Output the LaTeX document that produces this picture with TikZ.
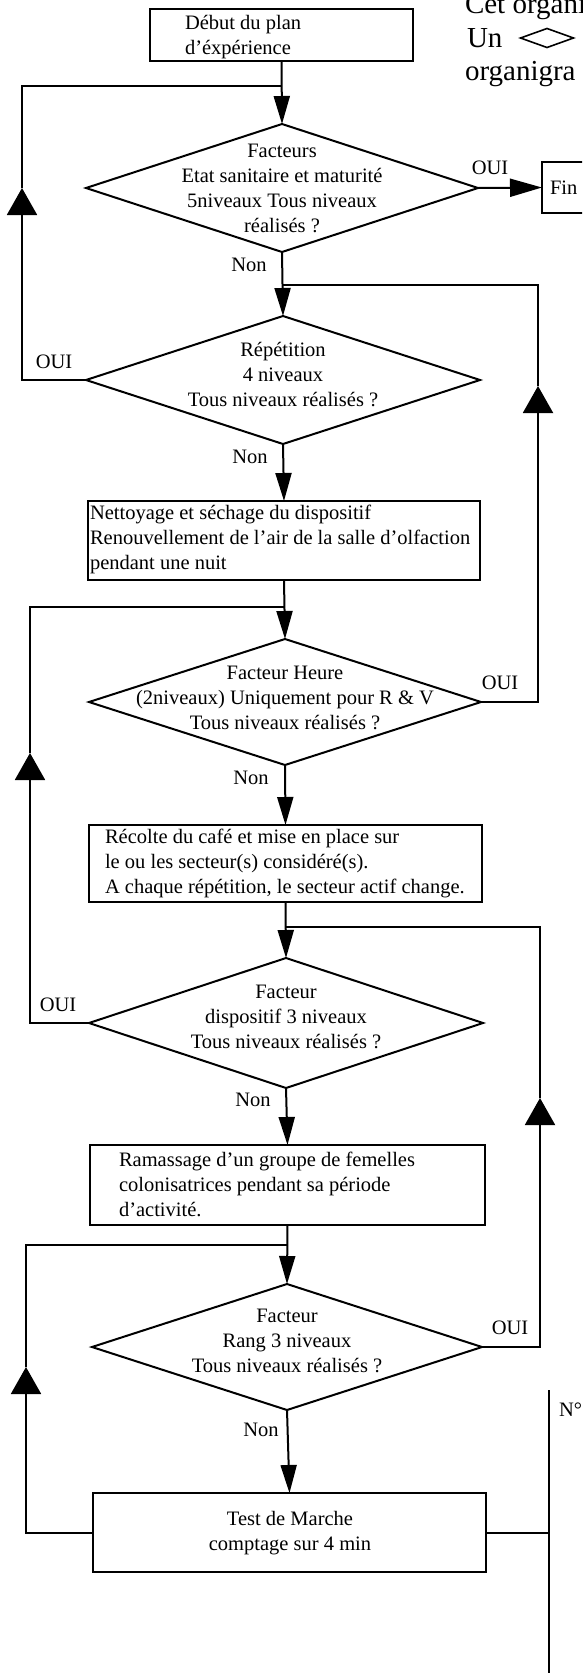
\documentclass[tikz,border=0pt]{standalone}
\usepackage{fontspec}
\setmainfont{Liberation Serif}
\usetikzlibrary{arrows.meta,shapes.geometric}
\begin{document}
\begin{tikzpicture}[x=1pt,y=-1pt,
  every node/.style={font=\fontsize{20.5}{25}\selectfont, inner sep=0pt, outer sep=0pt},
  ln/.style={line width=2pt},
  boxnode/.style={draw, line width=2pt, rectangle},
  decnode/.style={draw, line width=2pt, diamond, inner sep=0pt},
  ctxt/.style={align=center},
  ltxt/.style={align=left, anchor=west},
  down/.style={-{Triangle[length=28pt,width=16pt]}},
  up/.style={-{Triangle[length=27pt,width=30pt]}},
  right/.style={-{Triangle[length=32pt,width=18pt]}},
  big/.style={font=\fontsize{29}{34}\selectfont, anchor=base west}]
\useasboundingbox (0,0) rectangle (582,1673);
\clip (0,0) rectangle (582,1673);
\fill[white] (0,0) rectangle (582,1673);

% clipped page text, top right
\node[big] (t1) at (465,13) {Cet organi};
\node[big] (t2) at (467,47) {Un};
\node[draw, diamond, line width=1.6pt, minimum width=53pt, minimum height=19pt] (glyph) at (547,38) {};
\node[big] (t3) at (465,80) {organigra};

% boxes
\node[boxnode, minimum width=263pt, minimum height=52pt] (start) at (281.5,35) {};
\node[ltxt] (startt) at (185,37) {Début du plan\\d'éxpérience};

\node[boxnode, minimum width=80pt, minimum height=51pt, anchor=west] (fin) at (542,187.5) {};
\node[ltxt] (fint) at (550,188) {Fin};

\node[boxnode, minimum width=392pt, minimum height=79pt] (b2) at (284,540.5) {};
\node[ltxt] (b2t) at (90,539) {Nettoyage et séchage du dispositif\\Renouvellement de l'air de la salle d'olfaction\\pendant une nuit};

\node[boxnode, minimum width=393pt, minimum height=77pt] (b3) at (285.5,863.5) {};
\node[ltxt] (b3t) at (105,863) {Récolte du café et mise en place sur\\le ou les secteur(s) considéré(s).\\A chaque répétition, le secteur actif change.};

\node[boxnode, minimum width=395pt, minimum height=80pt] (b4) at (287.5,1185) {};
\node[ltxt] (b4t) at (119,1184) {Ramassage d'un groupe de femelles\\colonisatrices pendant sa période\\d'activité.};

\node[boxnode, minimum width=393pt, minimum height=79pt] (test) at (289.5,1532.5) {};
\node[ctxt] (testt) at (290,1533.5) {Test de Marche\\comptage sur 4 min};

% decisions
\node[decnode, minimum width=392pt, minimum height=128pt] (d1) at (282,188) {};
\node[ctxt] (d1t) at (282,188.5) {Facteurs\\Etat sanitaire et maturité\\5niveaux Tous niveaux\\réalisés ?};

\node[decnode, minimum width=394pt, minimum height=128pt] (d2) at (283,380) {};
\node[ctxt] (d2t) at (283,375) {Répétition\\4 niveaux\\Tous niveaux réalisés ?};

\node[decnode, minimum width=392pt, minimum height=126pt] (d3) at (285,702) {};
\node[ctxt] (d3t) at (285,698) {Facteur Heure\\(2niveaux) Uniquement pour R \& V\\Tous niveaux réalisés ?};

\node[decnode, minimum width=394pt, minimum height=130pt] (d4) at (286,1023) {};
\node[ctxt] (d4t) at (286,1017) {Facteur\\dispositif 3 niveaux\\Tous niveaux réalisés ?};

\node[decnode, minimum width=390pt, minimum height=126pt] (d5) at (287,1347) {};
\node[ctxt] (d5t) at (287,1341) {Facteur\\Rang 3 niveaux\\Tous niveaux réalisés ?};

% labels
\node (oui1) at (490,168) {OUI};
\node (non1) at (249,265) {Non};
\node (oui2) at (54,362) {OUI};
\node (non2) at (250,457) {Non};
\node (oui3) at (500,683) {OUI};
\node (non3) at (251,778) {Non};
\node (oui4) at (58,1005) {OUI};
\node (non4) at (253,1100) {Non};
\node (oui5) at (510,1328) {OUI};
\node (non5) at (261,1430) {Non};
\node[anchor=west] (num) at (559,1410) {N°};

% main flow
\draw[ln,down] (start.south) -- (d1.north);
\draw[ln,right] (d1.east) -- (fin.west);
\draw[ln,down] (d1.south) -- (d2.north);
\draw[ln,down] (d2.south) -- (b2.north);
\draw[ln,down] (b2.south) -- (d3.north);
\draw[ln,down] (d3.south) -- (b3.north);
\draw[ln,down] (b3.south) -- (d4.north);
\draw[ln,down] (d4.south) -- (b4.north);
\draw[ln,down] (b4.south) -- (d5.north);
\draw[ln,down] (d5.south) -- (test.north);

% loop L1
\coordinate (l1a) at (22,380); \coordinate (l1b) at (22,188);
\coordinate (l1c) at (22,86); \coordinate (l1d) at (282,86);
\draw[ln,up] (d2.west) -- (l1a) -- (l1b);
\draw[ln] (l1b) -- (l1c) -- (l1d);
% loop R1
\coordinate (r1a) at (538,702); \coordinate (r1b) at (538,386);
\coordinate (r1c) at (538,285); \coordinate (r1d) at (283,285);
\draw[ln,up] (d3.east) -- (r1a) -- (r1b);
\draw[ln] (r1b) -- (r1c) -- (r1d);
% loop L2
\coordinate (l2a) at (30,1023); \coordinate (l2b) at (30,753);
\coordinate (l2c) at (30,607); \coordinate (l2d) at (285,607);
\draw[ln,up] (d4.west) -- (l2a) -- (l2b);
\draw[ln] (l2b) -- (l2c) -- (l2d);
% loop R2
\coordinate (r2a) at (540,1347); \coordinate (r2b) at (540,1098);
\coordinate (r2c) at (540,927); \coordinate (r2d) at (286,927);
\draw[ln,up] (d5.east) -- (r2a) -- (r2b);
\draw[ln] (r2b) -- (r2c) -- (r2d);
% loop L3
\coordinate (l3a) at (26,1532.5); \coordinate (l3b) at (26,1367);
\coordinate (l3c) at (26,1245); \coordinate (l3d) at (287,1245);
\draw[ln,up] (test.west) -- (l3a) -- (l3b);
\draw[ln] (l3b) -- (l3c) -- (l3d);
% exit to the right
\coordinate (ex) at (549,1532.5);
\coordinate (vtop) at (549,1390); \coordinate (vbot) at (549,1680);
\draw[ln] (test.east) -- (ex);
\draw[ln] (vtop) -- (vbot);
\end{tikzpicture}
\end{document}
